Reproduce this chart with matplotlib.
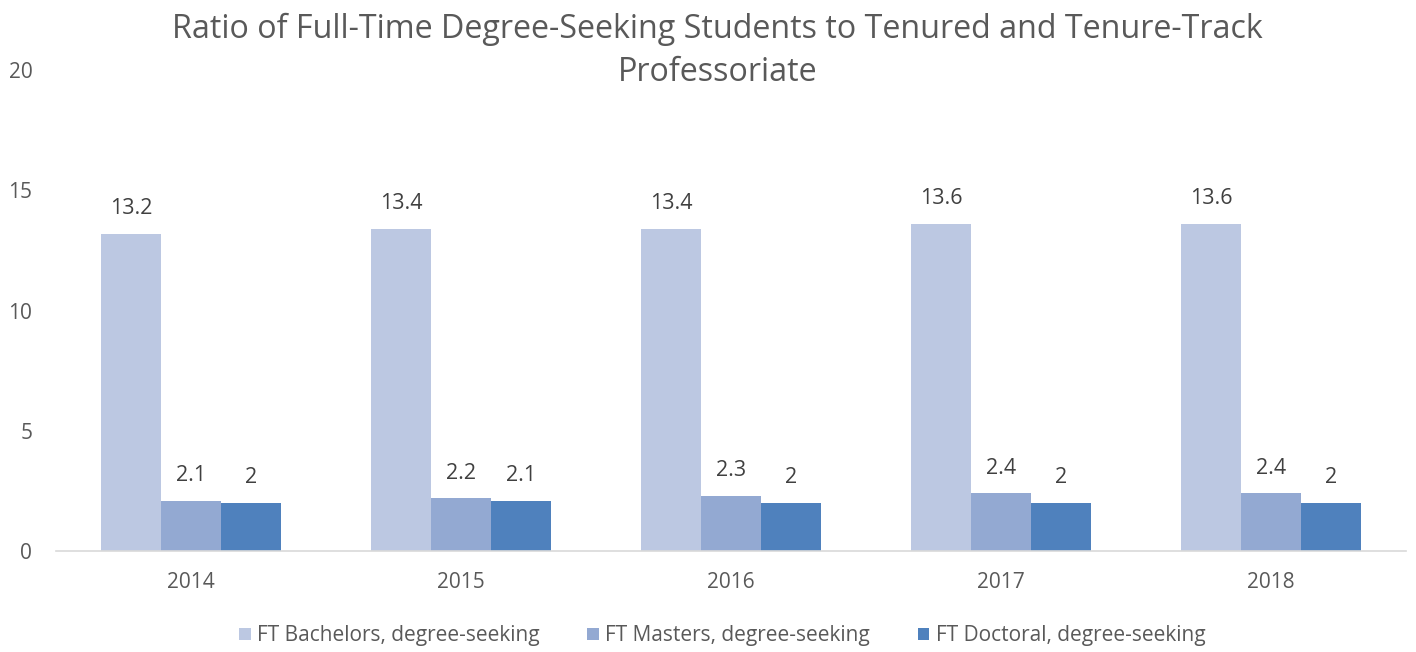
import matplotlib

matplotlib.use("Agg")
import matplotlib.pyplot as plt
import numpy as np

years = ["2014", "2015", "2016", "2017", "2018"]
bachelors = [13.2, 13.4, 13.4, 13.6, 13.6]
masters = [2.1, 2.2, 2.3, 2.4, 2.4]
doctoral = [2, 2.1, 2, 2, 2]

series = [
    ("FT Bachelors, degree-seeking", bachelors, "#BCC8E2"),
    ("FT Masters, degree-seeking", masters, "#93A9D2"),
    ("FT Doctoral, degree-seeking", doctoral, "#4F81BD"),
]

plt.rcParams["font.family"] = ["Open Sans", "DejaVu Sans"]
text_color = "#595959"

fig = plt.figure(figsize=(14.16, 6.52), dpi=100)
ax = fig.add_axes([0.0395, 0.1549, 0.9535, 0.7377])

x = np.arange(len(years))
width = 0.222
for i, (name, vals, color) in enumerate(series):
    pos = x + (i - 1) * width
    ax.bar(pos, vals, width=width, color=color, label=name)
    for px, v in zip(pos, vals):
        ax.annotate(f"{v:g}", (px, v), xytext=(0, 18), textcoords="offset points",
                    ha="center", va="center", fontsize=15.5, color="#404040")

ax.set_xlim(-0.5, len(years) - 0.5)
ax.set_ylim(0, 20)
ax.set_yticks([0, 5, 10, 15, 20])
ax.set_xticks(x)
ax.set_xticklabels(years)
ax.tick_params(axis="both", length=0, labelsize=15, colors=text_color)
ax.tick_params(axis="y", pad=17)
ax.tick_params(axis="x", pad=15)
for side in ["top", "right", "left"]:
    ax.spines[side].set_visible(False)
ax.spines["bottom"].set_color("#D9D9D9")
ax.spines["bottom"].set_linewidth(1.2)

fig.text(0.5065, 0.922, "Ratio of Full-Time Degree-Seeking Students to Tenured and Tenure-Track\nProfessoriate",
         ha="center", va="center", fontsize=23.2, color=text_color, linespacing=1.42)

fig.legend(loc="center", bbox_to_anchor=(0.51, 0.025), ncol=3, frameon=False,
           fontsize=15, labelcolor=text_color, handlelength=0.55, handleheight=0.55,
           handletextpad=0.3, columnspacing=2.3)

fig.savefig("out.png")
